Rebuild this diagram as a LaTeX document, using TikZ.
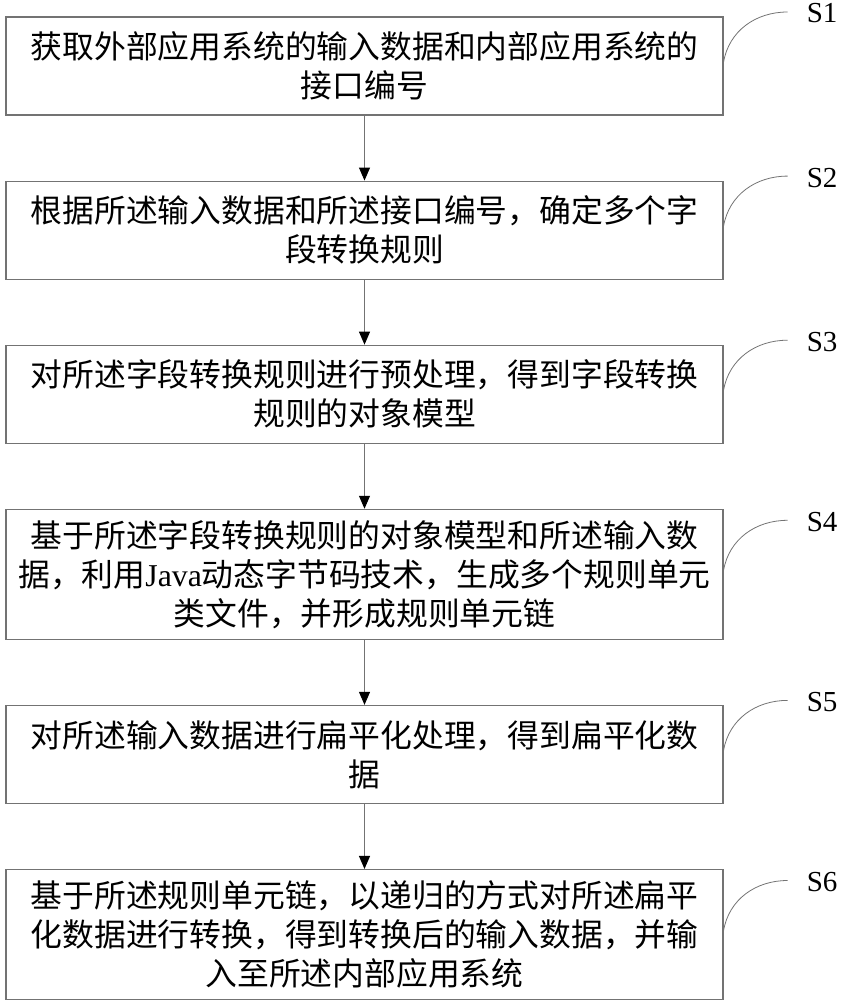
\documentclass[tikz,border=0pt]{standalone}
\usepackage{fontspec}
\setmainfont{Liberation Serif}
\newfontfamily\cjk{Noto Sans CJK SC}
\usetikzlibrary{positioning}
\usetikzlibrary{arrows.meta}
\tikzset{
    stepbox/.style = {rectangle, draw=black!55, line width=1.1pt, minimum width=717pt, minimum height=98pt, inner sep=0pt, align=center, font=\cjk\fontsize{31.8}{39}\selectfont},
    stepboxl/.style = {stepbox, minimum height=130pt},
    tag/.style = {inner sep=0pt, anchor=west, font=\fontsize{29}{29}\selectfont},
    edgen/.style = {-{Triangle[width=11pt,length=13pt,color=black]}, draw=black!55, line width=1pt},
    hook/.style = {draw=black!55, line width=0.8pt}, % curved leader to step tag
}

\begin{document}
\begin{tikzpicture}[x=1pt, y=-1pt, node distance=65pt]
  \useasboundingbox (0,0) rectangle (842,1000);

  \node[stepbox] (s1) at (364.5,66) {获取外部应用系统的输入数据和内部应用系统的\\接口编号};
  \node[stepbox, below=of s1] (s2) {根据所述输入数据和所述接口编号，确定多个字\\段转换规则};
  \node[stepbox, below=of s2] (s3) {对所述字段转换规则进行预处理，得到字段转换\\规则的对象模型};
  \node[stepboxl, below=of s3] (s4) {基于所述字段转换规则的对象模型和所述输入数\\据，利用{\rmfamily Java}动态字节码技术，生成多个规则单元\\类文件，并形成规则单元链};
  \node[stepbox, below=of s4] (s5) {对所述输入数据进行扁平化处理，得到扁平化数\\据};
  \node[stepboxl, below=of s5] (s6) {基于所述规则单元链，以递归的方式对所述扁平\\化数据进行转换，得到转换后的输入数据，并输\\入至所述内部应用系统};

  \foreach \a/\b in {s1/s2, s2/s3, s3/s4, s4/s5, s5/s6}
    \draw[edgen] (\a) -- (\b);

  \foreach \i in {1,...,6} {
    \draw[hook] ([yshift=4pt]s\i.east) to[out=80, in=180] ++(64pt,50pt) coordinate (c\i);
    \node[tag, right=19pt of c\i, yshift=-1.5pt] (t\i) {S\i};
  }

\end{tikzpicture}
\end{document}
